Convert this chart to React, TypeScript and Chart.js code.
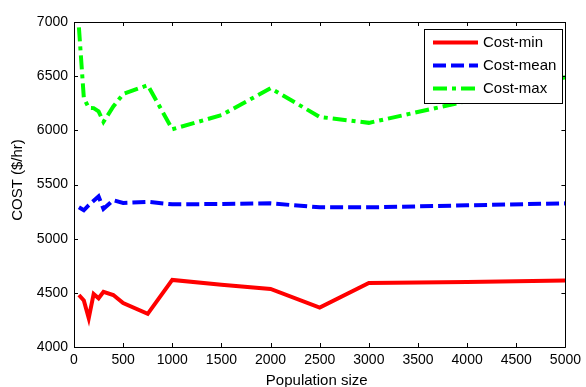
import React, { useEffect, useRef } from 'react';
import { Chart, registerables } from 'chart.js';

Chart.register(...registerables);

const populationSizes = [50, 100, 150, 200, 250, 300, 400, 500, 750, 1000, 1500, 2000, 2500, 3000, 4000, 5000];
const costMin = [4480, 4430, 4266, 4490, 4450, 4510, 4480, 4405, 4306, 4619, 4575, 4536, 4364, 4590, 4600, 4613];
const costMean = [5290, 5262, 5310, 5350, 5390, 5275, 5355, 5330, 5340, 5317, 5320, 5326, 5289, 5289, 5308, 5326];
const costMax = [6950, 6300, 6207, 6205, 6175, 6078, 6220, 6335, 6417, 6010, 6140, 6388, 6124, 6069, 6270, 6490];

const seriesNames = ['Cost-min', 'Cost-mean', 'Cost-max'];
const seriesColors = ['#ff0000', '#0000ff', '#00ff00'];
const seriesDashes: number[][] = [[], [13, 5], [14, 5, 4, 5]];
const xTicksMin = 0;
const xTicksMax = 5000;
const xStep = 500;
const yTicksMin = 4000;
const yTicksMax = 7000;
const yStep = 500;
const xTitle = 'Population size';
const yTitle = 'COST ($/hr)';

const FONT = '"Liberation Sans", Arial, Helvetica, sans-serif';

const framePlugin = {
  id: 'matlabFrame',
  afterDraw(chart: any) {
    const { ctx, chartArea } = chart;
    const { left, right, top, bottom } = chartArea;
    const xs = chart.scales.x;
    const ys = chart.scales.y;
    ctx.save();
    ctx.strokeStyle = '#000';
    ctx.lineWidth = 1;
    ctx.beginPath();
    ctx.rect(Math.round(left) + 0.5, Math.round(top) + 0.5, Math.round(right - left), Math.round(bottom - top));
    ctx.stroke();
    const tl = 4;
    ctx.beginPath();
    for (let v = xTicksMin; v <= xTicksMax; v += xStep) {
      const px = Math.round(xs.getPixelForValue(v)) + 0.5;
      ctx.moveTo(px, bottom);
      ctx.lineTo(px, bottom - tl);
      ctx.moveTo(px, top);
      ctx.lineTo(px, top + tl);
    }
    for (let v = yTicksMin; v <= yTicksMax; v += yStep) {
      const py = Math.round(ys.getPixelForValue(v)) + 0.5;
      ctx.moveTo(left, py);
      ctx.lineTo(left + tl, py);
      ctx.moveTo(right, py);
      ctx.lineTo(right - tl, py);
    }
    ctx.stroke();

    // axis titles
    ctx.fillStyle = '#000';
    ctx.font = `15px ${FONT}`;
    ctx.textAlign = 'center';
    ctx.textBaseline = 'middle';
    ctx.fillText(xTitle, (left + right) / 2 - 3, 381);
    ctx.save();
    ctx.translate(18, 180);
    ctx.rotate(-Math.PI / 2);
    ctx.fillText(yTitle, 0, 0);
    ctx.restore();

    // legend
    const lx = 424, ly = 29, lw = 138, lh = 74;
    ctx.fillStyle = '#fff';
    ctx.fillRect(lx, ly, lw, lh);
    ctx.strokeStyle = '#000';
    ctx.lineWidth = 1;
    ctx.strokeRect(lx + 0.5, ly + 0.5, lw, lh);
    const rows = [42.5, 65.5, 88.5];
    ctx.font = `15px ${FONT}`;
    ctx.textAlign = 'left';
    ctx.textBaseline = 'middle';
    for (let i = 0; i < seriesNames.length; i++) {
      ctx.strokeStyle = seriesColors[i];
      ctx.lineWidth = 4;
      ctx.setLineDash(seriesDashes[i]);
      ctx.beginPath();
      ctx.moveTo(433, rows[i]);
      ctx.lineTo(478, rows[i]);
      ctx.stroke();
      ctx.setLineDash([]);
      ctx.fillStyle = '#000';
      ctx.fillText(seriesNames[i], 483, rows[i] + 0.5);
    }
    ctx.restore();
  },
};

export default function App() {
  const canvasRef = useRef<HTMLCanvasElement | null>(null);

  useEffect(() => {
    const canvas = canvasRef.current;
    if (!canvas) return;
    const seriesValues = [costMin, costMean, costMax];
    const chart = new Chart(canvas, {
      type: 'line',
      data: {
        datasets: seriesNames.map((name, i) => ({
          label: name,
          data: populationSizes.map((x, j) => ({ x, y: seriesValues[i][j] })),
          borderColor: seriesColors[i],
          backgroundColor: seriesColors[i],
          borderWidth: 4,
          borderDash: seriesDashes[i],
          pointRadius: 0,
          tension: 0,
          fill: false,
        })),
      },
      options: {
        responsive: false,
        animation: false,
        layout: { padding: { left: 0, top: 22, right: 17, bottom: 0 } },
        plugins: {
          legend: { display: false },
          tooltip: { enabled: false },
          title: { display: false },
        },
        scales: {
          x: {
            type: 'linear',
            min: xTicksMin,
            max: xTicksMax,
            grid: { display: false, drawTicks: false },
            border: { display: false },
            ticks: {
              stepSize: xStep,
              padding: 5,
              color: '#000',
              maxRotation: 0,
              autoSkip: false,
              font: { family: FONT, size: 14 },
              callback: (v: any) => String(v),
            },
            afterFit: (s: any) => { s.height = 40; },
          },
          y: {
            type: 'linear',
            min: yTicksMin,
            max: yTicksMax,
            grid: { display: false, drawTicks: false },
            border: { display: false },
            ticks: {
              stepSize: yStep,
              padding: 6,
              color: '#000',
              autoSkip: false,
              font: { family: FONT, size: 14 },
              callback: (v: any) => String(v),
            },
            afterFit: (s: any) => { s.width = 74; },
          },
        },
      },
      plugins: [framePlugin],
    });
    return () => chart.destroy();
  }, []);

  return (
    <div style={{ position: 'fixed', left: 0, top: 0, width: 586, height: 387, background: '#fff' }}>
      <canvas ref={canvasRef} width={586} height={387} style={{ display: 'block' }} />
    </div>
  );
}
